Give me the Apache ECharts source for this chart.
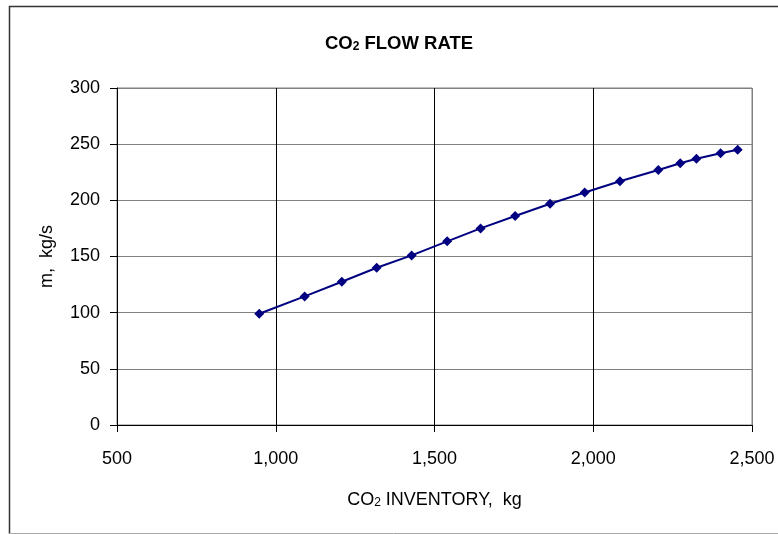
<!DOCTYPE html>
<html>
<head>
<meta charset="utf-8">
<script src="https://cdn.jsdelivr.net/npm/echarts@6/dist/echarts.min.js"></script>
<style>html,body{margin:0;padding:0;background:#fff;}#c{width:778px;height:534px;}</style>
</head>
<body>
<div id="c"></div>
<script>
const inventoryKg = [948, 1091, 1208, 1318, 1428, 1540, 1645, 1754, 1864, 1973, 2084, 2205, 2274, 2325, 2401, 2455];
const flowRate = [99, 114.5, 127.5, 140, 151, 163.5, 175, 186, 197, 207, 217, 227, 233, 237, 242, 245];
const xTicks = [500, 1000, 1500, 2000, 2500];
const yTicks = [0, 50, 100, 150, 200, 250, 300];

const FONT = '"Liberation Sans", Arial, sans-serif';
const chart = echarts.init(document.getElementById('c'), null, {renderer: 'canvas'});
chart.setOption({
  animation: false,
  backgroundColor: '#fff',
  title: {
    text: 'CO{sub|2} FLOW RATE',
    left: 394, top: 29, textAlign: 'center',
    textStyle: {
      fontFamily: FONT, fontSize: 18.5, fontWeight: 'bold', color: '#000',
      rich: {sub: {fontFamily: FONT, fontSize: 12, fontWeight: 'bold', color: '#000', verticalAlign: 'bottom', padding: [6, 0, 0, 0]}}
    }
  },
  graphic: [{
    type: 'polyline', silent: true,
    shape: {points: [[9.5, 534], [9.5, 6.5], [778, 6.5]]},
    style: {stroke: '#333', lineWidth: 1.5, fill: null}
  }, {
    type: 'line', silent: true,
    shape: {x1: 9, y1: 533.5, x2: 778, y2: 533.5},
    style: {stroke: '#aaa', lineWidth: 1}
  }],
  grid: {left: 117, right: 26, top: 88, bottom: 109, show: true, borderColor: '#808080', borderWidth: 1, backgroundColor: '#fff'},
  xAxis: {
    type: 'value', min: xTicks[0], max: xTicks[xTicks.length - 1], interval: 500,
    name: 'CO{sub|2} INVENTORY,  kg', nameLocation: 'middle', nameGap: 66,
    nameTextStyle: {fontFamily: FONT, fontSize: 18, color: '#000',
      rich: {sub: {fontFamily: FONT, fontSize: 12, color: '#000', verticalAlign: 'bottom', padding: [6, 0, 0, 0]}}},
    axisLine: {show: true, lineStyle: {color: '#000', width: 1}},
    axisTick: {show: true, inside: false, length: 7, lineStyle: {color: '#000'}},
    axisLabel: {fontFamily: FONT, fontSize: 18, color: '#000', margin: 25,
      formatter: v => v.toLocaleString('en-US')},
    splitLine: {show: true, lineStyle: {color: ['#000', '#000', '#000', '#000', '#808080'], width: 1}}
  },
  yAxis: {
    type: 'value', min: yTicks[0], max: yTicks[yTicks.length - 1], interval: 50,
    name: 'm,  kg/s', nameLocation: 'middle', nameGap: 61, nameRotate: 90,
    nameTextStyle: {fontFamily: FONT, fontSize: 18, color: '#000'},
    axisLine: {show: true, lineStyle: {color: '#000', width: 1}},
    axisTick: {show: true, inside: false, length: 7, lineStyle: {color: '#000'}},
    axisLabel: {fontFamily: FONT, fontSize: 18, color: '#000', margin: 17},
    splitLine: {show: true, lineStyle: {color: '#808080', width: 1}}
  },
  series: [{
    type: 'line',
    data: inventoryKg.map((x, i) => [x, flowRate[i]]),
    symbol: 'diamond', symbolSize: 10, showAllSymbol: true,
    lineStyle: {color: '#000080', width: 2},
    itemStyle: {color: '#000080'}
  }]
});
</script>
</body>
</html>
